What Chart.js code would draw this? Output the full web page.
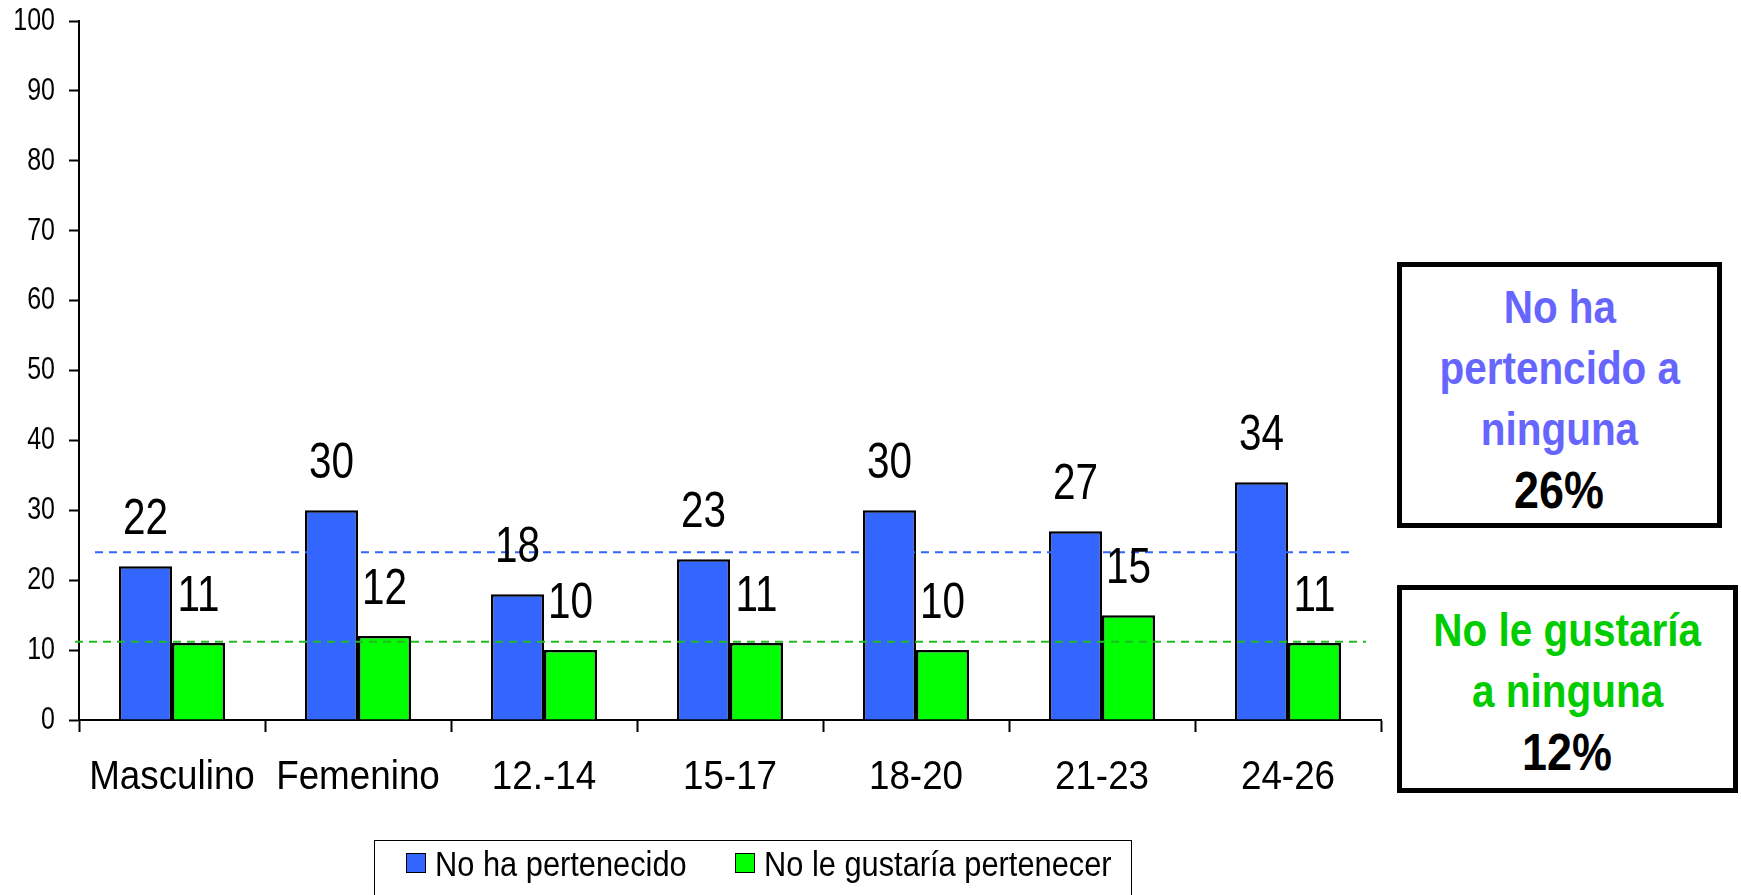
<!DOCTYPE html>
<html>
<head>
<meta charset="utf-8">
<script src="https://cdn.jsdelivr.net/npm/chart.js@4.4.0/dist/chart.umd.min.js"></script>
<style>
  body { margin: 0; background: #fff; overflow: hidden; }
  #wrap { position: relative; width: 1741px; height: 895px; }
  #grafico { position: absolute; left: 0; top: 0; }
  .caja {
    position: absolute; border: 5px solid #000; box-sizing: border-box; background: #fff;
    text-align: center; font-family: "Liberation Sans", Arial, sans-serif; font-weight: bold;
    font-size: 46px; line-height: 61px; padding-top: 10px;
  }
  .caja span { display: inline-block; transform: scaleX(0.88); white-space: nowrap; }
  .caja .pct { color: #000; font-size: 51px; }
  #caja1 { left: 1397px; top: 262px; width: 325px; height: 266px; color: #6666ff; }
  #caja2 { left: 1397px; top: 585px; width: 341px; height: 208px; color: #00cc00; }
  #leyenda {
    position: absolute; left: 374px; top: 840px; width: 758px; height: 90px;
    border: 1.5px solid #000; box-sizing: border-box;
    font-family: "Liberation Sans", Arial, sans-serif; font-size: 35px;
  }
  .item { position: absolute; top: 4px; height: 37px; line-height: 37px; white-space: nowrap; }
  .cuadro { position: absolute; top: 8px; width: 20px; height: 20px; border: 1px solid #000; box-sizing: border-box; }
  .texto { position: absolute; left: 29px; top: 0; transform: scaleX(0.88); transform-origin: left center; }
</style>
</head>
<body>
<div id="wrap">
  <canvas id="grafico" width="1741" height="895"></canvas>
  <div class="caja" id="caja1"><span>No ha</span><br><span>pertencido a</span><br><span>ninguna</span><br><span class="pct">26%</span></div>
  <div class="caja" id="caja2"><span>No le gustaría</span><br><span>a ninguna</span><br><span class="pct">12%</span></div>
  <div id="leyenda"></div>
</div>
<script>
// DATOS
const categorias = ['Masculino', 'Femenino', '12.-14', '15-17', '18-20', '21-23', '24-26'];
const noHaPertenecido = [22, 30, 18, 23, 30, 27, 34];
const noLeGustaria = [11, 12, 10, 11, 10, 15, 11];
const nombresSeries = ['No ha pertenecido', 'No le gustaría pertenecer'];
const coloresSeries = ['#3366ff', '#00ff00'];

// lineas de promedio (valor en el eje y)
const promedios = [24, 11.2];
const coloresPromedio = ['#3366ff', '#22bb22'];

const fuente = '"Liberation Sans", Arial, sans-serif';

// texto algo comprimido en horizontal, como en el original
function textoAngosto(ctx, texto, x, y, escala) {
  ctx.save();
  ctx.translate(x, y);
  ctx.scale(escala, 1);
  ctx.fillText(texto, 0, 0);
  ctx.restore();
}

const promediosPlugin = {
  id: 'promedios',
  afterDatasetsDraw(chart) {
    const { ctx, chartArea, scales } = chart;
    // extension de cada linea respecto al area del grafico
    const margenes = [[16, 29], [-4, 15]];
    ctx.save();
    ctx.lineWidth = 2;
    ctx.setLineDash([8, 6]);
    promedios.forEach((valor, i) => {
      const y = scales.y.getPixelForValue(valor);
      ctx.strokeStyle = coloresPromedio[i];
      ctx.beginPath();
      ctx.moveTo(chartArea.left + margenes[i][0], y);
      ctx.lineTo(chartArea.right - margenes[i][1], y);
      ctx.stroke();
    });
    ctx.restore();
  }
};

const etiquetasPlugin = {
  id: 'etiquetas',
  afterDatasetsDraw(chart) {
    const ctx = chart.ctx;
    ctx.save();
    ctx.font = '50px ' + fuente;
    ctx.fillStyle = '#000';
    ctx.textAlign = 'center';
    ctx.textBaseline = 'alphabetic';
    chart.data.datasets.forEach((dataset, i) => {
      chart.getDatasetMeta(i).data.forEach((barra, j) => {
        textoAngosto(ctx, String(dataset.data[j]), barra.x, barra.y - 32, 0.81);
      });
    });
    ctx.restore();
  }
};

const ejesPlugin = {
  id: 'textosEjes',
  afterDraw(chart) {
    const { ctx, scales: { x, y } } = chart;
    ctx.save();
    ctx.fillStyle = '#000';
    ctx.textBaseline = 'middle';

    ctx.font = '32px ' + fuente;
    ctx.textAlign = 'right';
    y.ticks.forEach((tick, i) => {
      textoAngosto(ctx, String(tick.value), x.left - 24, y.getPixelForTick(i), 0.78);
    });

    ctx.font = '40px ' + fuente;
    ctx.textAlign = 'center';
    x.ticks.forEach((tick, i) => {
      textoAngosto(ctx, x.getLabelForValue(tick.value), x.getPixelForTick(i), x.top + 58, 0.92);
    });
    ctx.restore();
  }
};

const dados = {
  labels: categorias,
  datasets: [{
    label: nombresSeries[0],
    data: noHaPertenecido,
    backgroundColor: coloresSeries[0],
    borderColor: '#000',
    borderWidth: 2.5
  }, {
    label: nombresSeries[1],
    data: noLeGustaria,
    backgroundColor: coloresSeries[1],
    borderColor: '#000',
    borderWidth: 2.5
  }]
};

const config = {
  type: 'bar',
  data: dados,
  options: {
    responsive: false,
    animation: false,
    categoryPercentage: 0.57,
    barPercentage: 1,
    layout: { padding: { top: 21, right: 360, bottom: 94, left: 0 } },
    plugins: {
      legend: { display: false },
      tooltip: { enabled: false }
    },
    scales: {
      x: {
        grid: { offset: true, drawOnChartArea: false, tickLength: 12, tickColor: '#000', tickWidth: 2 },
        border: { display: true, color: '#000', width: 2 },
        ticks: { display: false },
        afterFit(axis) { axis.height = 81; }
      },
      y: {
        min: 0,
        max: 100,
        ticks: { stepSize: 10, display: false },
        grid: { drawOnChartArea: false, tickLength: 10, tickColor: '#000', tickWidth: 2 },
        border: { display: true, color: '#000', width: 2 },
        afterFit(axis) { axis.width = 79; }
      }
    }
  },
  plugins: [promediosPlugin, etiquetasPlugin, ejesPlugin]
};

const grafico = new Chart(document.getElementById('grafico'), config);

// leyenda
const leyenda = document.getElementById('leyenda');
const posicionesLeyenda = [31, 360];
nombresSeries.forEach((nombre, i) => {
  const item = document.createElement('div');
  item.className = 'item';
  item.style.left = posicionesLeyenda[i] + 'px';
  item.innerHTML = '<span class="cuadro" style="background:' + coloresSeries[i] + '"></span><span class="texto">' + nombre + '</span>';
  leyenda.appendChild(item);
});
</script>
</body>
</html>
